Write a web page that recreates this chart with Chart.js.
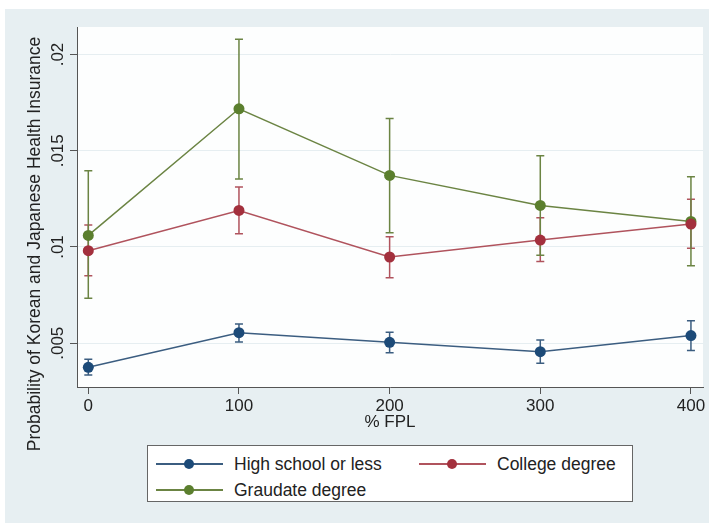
<!DOCTYPE html>
<html>
<head>
<meta charset="utf-8">
<script src="https://cdn.jsdelivr.net/npm/chart.js@4/dist/chart.umd.min.js"></script>
<style>
  html, body { margin: 0; padding: 0; background: #fff; }
  #wrap { position: relative; width: 709px; height: 523px; }
  #legend {
    position: absolute; left: 147px; top: 445px; width: 486px; height: 57px;
    background: #fff; border: 1.5px solid #666; box-sizing: border-box;
    font-family: 'Liberation Sans', Arial, sans-serif; font-size: 17.5px; color: #222;
  }
  .item { position: absolute; height: 20px; line-height: 20px; white-space: nowrap; }
  .sym { position: absolute; left: 0; top: 9px; width: 67px; height: 1.5px; }
  .dot { position: absolute; left: 28px; top: -4.5px; width: 10px; height: 10px; border-radius: 50%; }
  .txt { position: absolute; left: 78px; top: 0; }
</style>
</head>
<body>
<div id="wrap">
  <canvas id="chart" width="709" height="523"></canvas>
  <div id="legend"></div>
</div>
<script>
// % FPL categories
const fplLevels = [0, 100, 200, 300, 400];
const xTicks = [0, 100, 200, 300, 400];
const yTicks = [0.005, 0.01, 0.015, 0.02];
const yTickLabels = ['.005', '.01', '.015', '.02'];

const seriesNames = ['High school or less', 'College degree', 'Graudate degree'];
const seriesColors = ['#1c4a78', '#a3303d', '#5b7f2e'];
const lineColors = ['#3b5d80', '#b0535d', '#6b8443'];

// point estimates
const highSchool = [0.00375, 0.00555, 0.00505, 0.00456, 0.00540];
const college    = [0.00981, 0.01190, 0.00948, 0.01036, 0.01119];
const graduate   = [0.01060, 0.01718, 0.01372, 0.01216, 0.01133];

// confidence intervals
const highSchoolLo = [0.00335, 0.00507, 0.00451, 0.00396, 0.00462];
const highSchoolHi = [0.00417, 0.00600, 0.00557, 0.00517, 0.00617];
const collegeLo    = [0.00851, 0.01069, 0.00840, 0.00924, 0.00993];
const collegeHi    = [0.01114, 0.01312, 0.01053, 0.01152, 0.01248];
const graduateLo   = [0.00734, 0.01353, 0.01074, 0.00957, 0.00903];
const graduateHi   = [0.01396, 0.02080, 0.01668, 0.01474, 0.01365];

const estimates = [highSchool, college, graduate];
const lows = [highSchoolLo, collegeLo, graduateLo];
const highs = [highSchoolHi, collegeHi, graduateHi];

const FONT = "'Liberation Sans', Arial, sans-serif";

const datasets = estimates.map((vals, i) => ({
    label: seriesNames[i],
    data: vals.map((v, j) => ({ x: fplLevels[j], y: v })),
    borderColor: lineColors[i],
    borderWidth: 1.5,
    pointRadius: 5.5,
    pointBackgroundColor: seriesColors[i],
    pointBorderColor: seriesColors[i],
    pointBorderWidth: 0,
    tension: 0,
    errLo: lows[i],
    errHi: highs[i]
}));

// panel background, error bars and the y title
const stataPlugin = {
    id: 'stata',
    beforeDraw(chart) {
        const ctx = chart.ctx;
        const a = chart.chartArea;
        ctx.save();
        ctx.fillStyle = '#ffffff';
        ctx.fillRect(0, 0, chart.width, chart.height);
        ctx.fillStyle = '#e7eff2';
        ctx.fillRect(5, 9, chart.width - 5, chart.height - 9);
        ctx.fillStyle = '#fdfefe';
        ctx.fillRect(a.left, a.top, a.right - a.left, a.bottom - a.top);
        ctx.restore();
    },
    beforeDatasetsDraw(chart) {
        const ctx = chart.ctx;
        const xs = chart.scales.x, ys = chart.scales.y;
        ctx.save();
        ctx.lineWidth = 1.5;
        chart.data.datasets.forEach((ds, i) => {
            ctx.strokeStyle = lineColors[i];
            fplLevels.forEach((f, j) => {
                const px = xs.getPixelForValue(f);
                const lo = ys.getPixelForValue(ds.errLo[j]);
                const hi = ys.getPixelForValue(ds.errHi[j]);
                ctx.beginPath();
                ctx.moveTo(px, lo); ctx.lineTo(px, hi);
                ctx.moveTo(px - 4, lo); ctx.lineTo(px + 4, lo);
                ctx.moveTo(px - 4, hi); ctx.lineTo(px + 4, hi);
                ctx.stroke();
            });
        });
        ctx.restore();
    },
    afterDraw(chart) {
        const ctx = chart.ctx;
        ctx.save();
        ctx.translate(35, 244);
        ctx.rotate(-Math.PI / 2);
        ctx.font = '17.5px ' + FONT;
        ctx.fillStyle = '#222';
        ctx.textAlign = 'center';
        ctx.textBaseline = 'middle';
        ctx.fillText('Probability of Korean and Japanese Health Insurance', 0, 0);
        ctx.restore();
    }
};

new Chart(document.getElementById('chart'), {
    type: 'line',
    data: { datasets: datasets },
    options: {
        responsive: false,
        animation: false,
        layout: { padding: { left: 22, top: 27, right: 6, bottom: 86 } },
        plugins: { legend: { display: false }, tooltip: { enabled: false } },
        scales: {
            x: {
                type: 'linear',
                min: -7.5,
                max: 408,
                afterBuildTicks(scale) { scale.ticks = xTicks.map(v => ({ value: v })); },
                afterFit(scale) { scale.height = 50; },
                grid: { drawOnChartArea: false, drawTicks: true, tickLength: 7, tickColor: '#555', tickWidth: 1 },
                border: { color: '#555', width: 1 },
                ticks: { font: { family: FONT, size: 17 }, color: '#222', padding: 2, maxRotation: 0 },
                title: { display: true, text: '% FPL', font: { family: FONT, size: 17 }, color: '#222', padding: { top: 0, bottom: 4 } }
            },
            y: {
                min: 0.002726,
                max: 0.02143,
                afterBuildTicks(scale) { scale.ticks = yTicks.map(v => ({ value: v })); },
                afterFit(scale) { scale.width = 55; },
                grid: { color: '#e6eef1', lineWidth: 1, tickLength: 7, tickColor: '#555', tickWidth: 1 },
                border: { color: '#555', width: 1 },
                ticks: {
                    font: { family: FONT, size: 17 }, color: '#222',
                    minRotation: 90, maxRotation: 90, crossAlign: 'center', padding: -5,
                    callback: (v) => yTickLabels[yTicks.indexOf(v)]
                }
            }
        }
    },
    plugins: [stataPlugin]
});

// legend box in two columns
const legendPos = [[8, 8], [271, 8], [8, 34]];
const legendEl = document.getElementById('legend');
seriesNames.forEach((name, i) => {
    const item = document.createElement('div');
    item.className = 'item';
    item.style.left = legendPos[i][0] + 'px';
    item.style.top = legendPos[i][1] + 'px';
    item.innerHTML = '<div class="sym" style="background:' + lineColors[i] + '">' +
        '<div class="dot" style="background:' + seriesColors[i] + '"></div></div>' +
        '<span class="txt">' + name + '</span>';
    legendEl.appendChild(item);
});
</script>
</body>
</html>
